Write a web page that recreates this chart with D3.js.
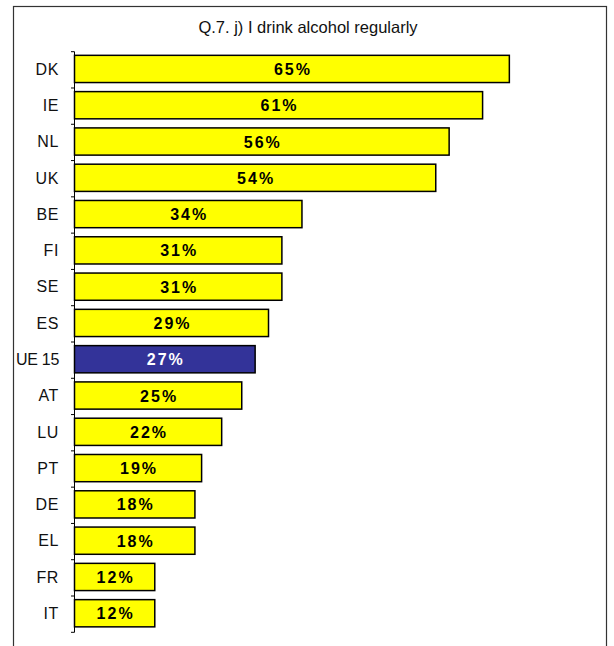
<!DOCTYPE html>
<html>
<head>
<meta charset="utf-8">
<script src="https://cdn.jsdelivr.net/npm/d3@7"></script>
<style>
  body { margin: 0; background: #fff; }
  svg { display: block; }
</style>
</head>
<body>
<div id="chart"></div>
<script>
// data
const countries = ["DK", "IE", "NL", "UK", "BE", "FI", "SE", "ES", "UE 15", "AT", "LU", "PT", "DE", "EL", "FR", "IT"];
const values = [65, 61, 56, 54, 34, 31, 31, 29, 27, 25, 22, 19, 18, 18, 12, 12];
const highlight = "UE 15";
const title = "Q.7. j) I drink alcohol regularly";

const width = 614, height = 646;
const axisTop = 51.7, axisBottom = 632.3;

const svg = d3.select("#chart")
    .append("svg")
    .attr("width", width)
    .attr("height", height);

// outer frame (bottom runs off the picture)
svg.append("rect")
    .attr("x", 13.5)
    .attr("y", 6.5)
    .attr("width", 593)
    .attr("height", 660)
    .attr("fill", "none")
    .attr("stroke", "#333")
    .attr("stroke-width", 1.2);

svg.append("text")
    .attr("x", 308)
    .attr("y", 33)
    .attr("text-anchor", "middle")
    .attr("font-family", "Liberation Sans, Arial, sans-serif")
    .attr("font-size", "16.5px")
    .attr("fill", "#111")
    .text(title);

const data = countries.map((c, i) => ({ country: c, value: values[i] }));

const xScale = d3.scaleLinear()
    .domain([0, 80])
    .range([74.5, 609.7]);

const yScale = d3.scaleBand()
    .domain(countries)
    .range([axisTop, axisBottom])
    .paddingInner(0.25)
    .paddingOuter(0.125)
    .align(0.4);

// category axis: ticks sit on band boundaries
const axisG = svg.append("g");
axisG.append("line")
    .attr("x1", 74.5).attr("x2", 74.5)
    .attr("y1", axisTop).attr("y2", axisBottom)
    .attr("stroke", "#000")
    .attr("stroke-width", 1);

const step = (axisBottom - axisTop) / countries.length;
const boundaries = d3.range(countries.length + 1).map(i => axisTop + i * step);
axisG.selectAll(".tick")
    .data(boundaries)
    .join("line")
    .attr("class", "tick")
    .attr("x1", 71).attr("x2", 74.5)
    .attr("y1", d => d).attr("y2", d => d)
    .attr("stroke", "#000");

axisG.selectAll(".cat")
    .data(data)
    .join("text")
    .attr("class", "cat")
    .attr("x", 59)
    .attr("y", d => yScale(d.country) + yScale.bandwidth() / 2)
    .attr("dy", "0.36em")
    .attr("text-anchor", "end")
    .attr("font-family", "Liberation Sans, Arial, sans-serif")
    .attr("font-size", "16px")
    .attr("letter-spacing", d => d.country === highlight ? "-0.3px" : "0.6px")
    .attr("fill", "#111")
    .text(d => d.country);

svg.selectAll(".bar")
    .data(data)
    .join("rect")
    .attr("class", "bar")
    .attr("x", xScale(0))
    .attr("y", d => yScale(d.country))
    .attr("width", d => xScale(d.value) - xScale(0))
    .attr("height", yScale.bandwidth())
    .attr("fill", d => d.country === highlight ? "#333399" : "#ffff00")
    .attr("stroke", "#000")
    .attr("stroke-width", 1.5);

svg.selectAll(".val")
    .data(data)
    .join("text")
    .attr("class", "val")
    .attr("x", d => (xScale(0) + xScale(d.value)) / 2 + 1)
    .attr("y", d => yScale(d.country) + yScale.bandwidth() / 2)
    .attr("dy", "0.38em")
    .attr("text-anchor", "middle")
    .attr("font-family", "Liberation Sans, Arial, sans-serif")
    .attr("font-size", "16px")
    .attr("font-weight", "bold")
    .attr("letter-spacing", "2px")
    .attr("fill", d => d.country === highlight ? "#fff" : "#000")
    .text(d => d.value + "%");
</script>
</body>
</html>
